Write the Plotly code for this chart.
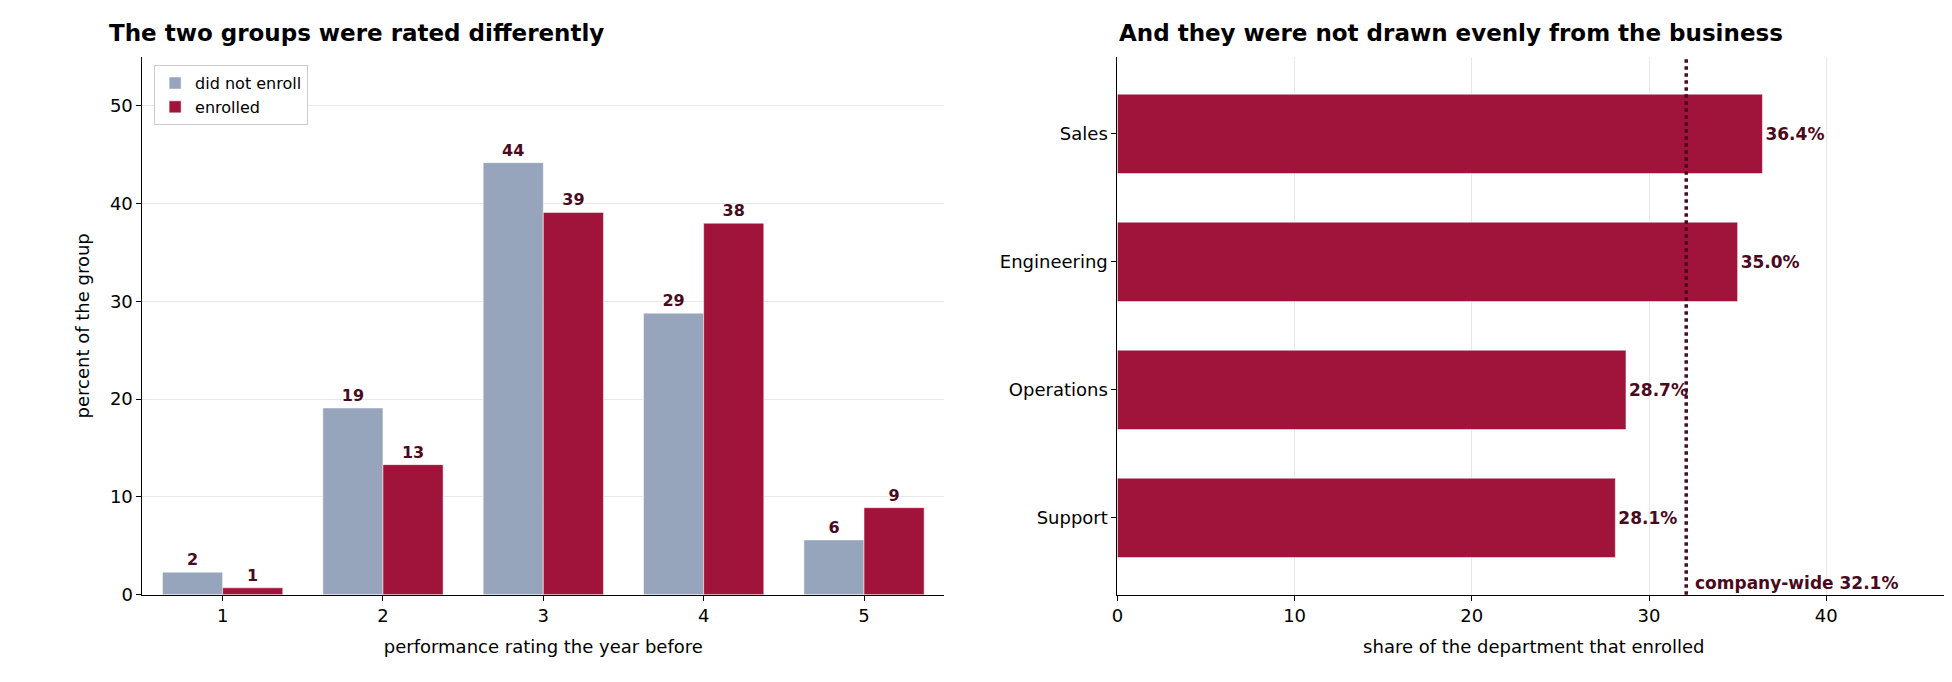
import plotly.graph_objects as go

# Daten
ratings = ["1", "2", "3", "4", "5"]
not_enrolled = [2.3, 19.1, 44.2, 28.8, 5.6]
enrolled = [0.7, 13.3, 39.1, 38.0, 8.9]

departments = ["Support", "Operations", "Engineering", "Sales"]
dept_share = [28.1, 28.7, 35.0, 36.4]
company_wide = 32.1

GREY = "#96a5bb"
RED = "#a0133b"
DARK = "#4a0a1e"
FONT = "DejaVu Sans"

fig = go.Figure()

fig.add_trace(go.Bar(
    x=ratings, y=not_enrolled, name="did not enroll", marker_color=GREY,
    texttemplate="%{y:.0f}", textposition="outside",
    textfont=dict(color=DARK, size=16, family=FONT, weight="bold"),
    xaxis="x", yaxis="y",
))
fig.add_trace(go.Bar(
    x=ratings, y=enrolled, name="enrolled", marker_color=RED,
    texttemplate="%{y:.0f}", textposition="outside",
    textfont=dict(color=DARK, size=16, family=FONT, weight="bold"),
    xaxis="x", yaxis="y",
))
fig.add_trace(go.Bar(
    y=departments, x=dept_share, orientation="h", marker_color=RED,
    width=0.62, showlegend=False,
    texttemplate="%{x:.1f}%", textposition="outside",
    textfont=dict(color=DARK, size=17, family=FONT, weight="bold"),
    xaxis="x2", yaxis="y2", cliponaxis=False,
))

axis_common = dict(showline=True, linecolor="black", ticks="outside",
                   tickcolor="black", tickfont=dict(size=18, color="black"))

fig.update_layout(
    width=1952, height=682, template="plotly_white",
    font=dict(family=FONT, color="black"),
    margin=dict(l=0, r=0, t=0, b=0),
    barmode="group", bargap=0.25, bargroupgap=0,
    xaxis=dict(domain=[0.066, 0.478], showgrid=False, anchor="y",
               title=dict(text="performance rating the year before", font=dict(size=18)),
               **axis_common),
    yaxis=dict(domain=[0.127, 0.927], range=[0, 55], dtick=10, anchor="x",
               showgrid=True, gridcolor="#e8e8e8", zeroline=False,
               title=dict(text="percent of the group", font=dict(size=18)),
               **axis_common),
    xaxis2=dict(domain=[0.567, 0.995], range=[0, 47], dtick=10, anchor="y2",
                showgrid=True, gridcolor="#e8e8e8", zeroline=False,
                title=dict(text="share of the department that enrolled", font=dict(size=18)),
                **axis_common),
    yaxis2=dict(domain=[0.127, 0.927], anchor="x2", showgrid=False,
                range=[-0.6, 3.6], **axis_common),
    legend=dict(x=0.072, y=0.915, xanchor="left", yanchor="top",
                bgcolor="white", bordercolor="#cccccc", borderwidth=1,
                font=dict(size=16)),
    shapes=[dict(type="line", xref="x2", yref="y2 domain", x0=company_wide, x1=company_wide,
                 y0=0, y1=1, line=dict(color=DARK, width=3.5, dash="dot"))],
    annotations=[
        dict(text="<b>The two groups were rated differently</b>", xref="paper", yref="paper",
             x=0.048, y=0.94, xanchor="left", yanchor="bottom", showarrow=False,
             font=dict(size=23)),
        dict(text="<b>And they were not drawn evenly from the business</b>", xref="paper", yref="paper",
             x=0.567, y=0.94, xanchor="left", yanchor="bottom", showarrow=False,
             font=dict(size=23)),
        dict(text="<b>company-wide 32.1%</b>", xref="x2", yref="y2 domain",
             x=company_wide + 0.4, y=0, xanchor="left", yanchor="bottom", showarrow=False,
             font=dict(size=17, color=DARK)),
    ],
)

fig.write_html("out.html")
